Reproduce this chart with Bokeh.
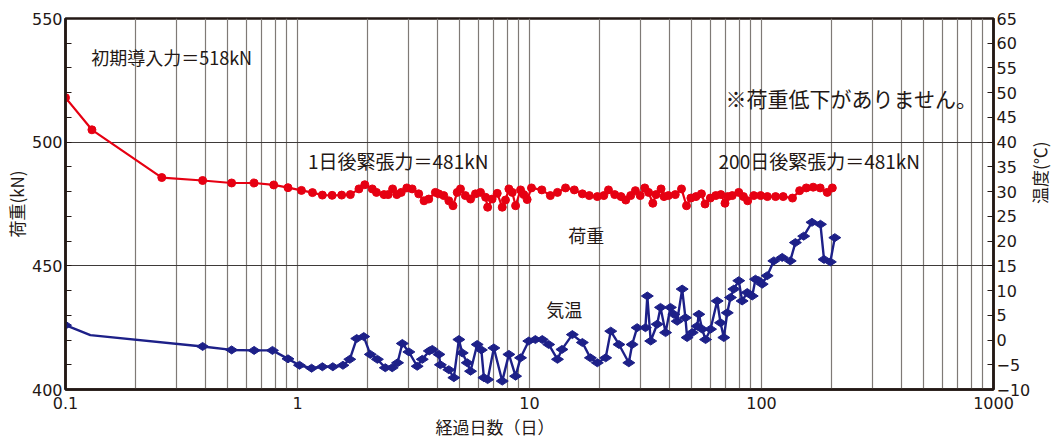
from math import pi
from bokeh.plotting import figure
from bokeh.models import Range1d, LinearAxis, FixedTicker, Label, CustomJSTickFormatter, Title
from bokeh.embed import file_html
from bokeh.resources import INLINE

# ---- data ----
load_days = [0.1, 0.13, 0.26, 0.39, 0.52, 0.65, 0.79, 0.91, 1.04, 1.16,
             1.28, 1.41, 1.55, 1.69, 1.84, 1.95, 2.1, 2.19, 2.36, 2.46,
             2.57, 2.68, 2.8, 2.96, 3.12, 3.33, 3.51, 3.68, 3.93, 4.06,
             4.27, 4.49, 4.68, 4.88, 5.04, 5.29, 5.57, 5.85, 6.15, 6.47,
             6.6, 6.9, 7.26, 7.63, 7.88, 8.15, 8.43, 8.71, 9.15, 9.45,
             9.77, 10.2, 11.3, 12.3, 13.2, 14.3, 15.6, 16.9, 18.1, 19.6,
             20.9, 21.9, 23.3, 24.8, 26.0, 27.3, 28.6, 30.0, 31.4, 32.6,
             34.0, 35.1, 36.9, 38.0, 39.7, 42.5, 45.2, 47.5, 49.6, 52.2,
             55.1, 57.1, 60.2, 63.5, 66.8, 69.6, 71.5, 74.8, 79.8, 83.6,
             87.2, 92.6, 99.2, 106, 115, 124, 136, 146, 156, 167,
             179, 192, 202]
load_kn = [518, 505, 485.7, 484.5, 483.5, 483.5, 482.7, 481.6, 480.5, 479.6,
           478.6, 478.5, 478.6, 478.8, 481.1, 482.8, 481.1, 479.7, 478.8, 478.8,
           481.1, 478.8, 479.7, 481.5, 481.1, 479.1, 476.3, 477.0, 479.7, 479.1,
           478.4, 476.3, 474.3, 479.7, 481.1, 478.4, 477.0, 479.1, 479.7, 477.7,
           473.7, 477.0, 479.3, 473.7, 476.6, 481.1, 479.7, 474.3, 480.7, 478.8,
           476.8, 481.5, 480.7, 478.4, 479.7, 481.5, 480.7, 479.1, 478.4, 478.0,
           478.4, 480.7, 478.8, 478.0, 476.6, 478.4, 480.4, 478.4, 481.5, 479.7,
           475.3, 478.8, 481.1, 478.0, 478.4, 478.8, 481.1, 474.3, 477.4, 478.0,
           479.1, 475.0, 477.4, 478.4, 478.8, 475.3, 478.0, 478.4, 479.7, 478.0,
           476.3, 478.4, 478.4, 478.0, 478.0, 478.0, 477.4, 480.4, 481.5, 481.8,
           481.5, 479.7, 481.5]

temp_days = [0.1, 0.128, 0.39, 0.52, 0.65, 0.78, 0.91, 1.02, 1.15, 1.28,
             1.42, 1.57, 1.68, 1.80, 1.93, 2.06, 2.21, 2.39, 2.56, 2.70,
             2.83, 3.02, 3.28, 3.45, 3.70, 3.81, 4.07, 4.13, 4.49, 4.72,
             4.96, 5.13, 5.39, 5.57, 5.95, 6.20, 6.36, 6.60, 7.02, 7.63,
             8.15, 8.71, 9.15, 9.93, 10.6, 11.35, 12.1, 13.2, 13.8, 15.3,
             16.9, 18.3, 19.6, 21.3, 22.4, 24.3, 26.8, 27.7, 29.1, 31.6,
             32.2, 33.3, 35.5, 36.7, 38.6, 40.5, 41.9, 43.3, 45.5, 47.0,
             47.8, 50.3, 52.8, 53.7, 55.5, 57.4, 60.3, 64.4, 66.6, 68.8,
             71.2, 73.5, 76.0, 79.8, 82.5, 86.8, 91.2, 94.2, 97.3, 100.7,
             105.8, 113, 122.8, 133, 140, 152, 165, 179.5, 186, 198,
             207]
temp_c = [3, 1, -1.3, -2.0, -2.1, -2.1, -3.8, -5.1, -5.7, -5.4,
          -5.4, -5.1, -3.9, 0.3, 0.7, -2.9, -3.9, -5.6, -5.6, -4.6,
          -0.7, -2.4, -5.3, -3.9, -2.2, -1.9, -2.9, -5.0, -6.0, -7.6,
          0.1, -2.6, -4.6, -6.3, -0.9, -2.0, -7.6, -8.0, -1.6, -8.3,
          -2.9, -7.3, -3.6, -0.2, 0.1, 0.1, -0.9, -3.9, -1.9, 1.1,
          -0.5, -3.6, -4.6, -3.6, 1.8, -0.9, -4.6, -0.9, 2.5, 2.5,
          8.9, -0.2, 3.2, 6.6, 1.5, 6.6, 5.2, 3.8, 10.3, 4.5,
          0.5, 1.5, 2.8, 5.2, 2.2, 0.1, 2.2, 7.9, 3.5, 0.5,
          5.5, 8.6, 10.3, 12.0, 7.9, 9.6, 8.9, 12.3, 12.0, 11.3,
          13.0, 16.0, 16.7, 16.0, 19.7, 21.0, 23.8, 23.4, 16.3, 15.8,
          20.7]

x_major = [0.1, 1, 10, 100, 1000]
x_minor = [m * 10.0 ** e for e in range(-1, 3) for m in range(2, 10)]
left_major = [400, 450, 500, 550]
left_minor = [410, 420, 430, 440, 460, 470, 480, 490, 510, 520, 530, 540]
left_grid = [450, 500]
right_ticks = [-10, -5, 0, 5, 10, 15, 20, 25, 30, 35, 40, 45, 50, 55, 60, 65]

RED = "#e60012"
NAVY = "#1d2088"
INK = "#231815"
JP = "Noto Sans CJK JP"

p = figure(frame_width=928, frame_height=371, x_axis_type="log",
           x_range=Range1d(0.1, 1000), y_range=Range1d(400, 550),
           output_backend="svg", toolbar_location=None,
           min_border_left=61, min_border_right=57,
           min_border_top=18, min_border_bottom=40)
p.extra_y_ranges = {"temp": Range1d(-10, 65)}
p.background_fill_color = "white"
p.outline_line_color = INK
p.outline_line_width = 2.5

# x axis
p.xaxis.ticker = FixedTicker(ticks=x_major, minor_ticks=x_minor)
p.xaxis.formatter = CustomJSTickFormatter(code="return String(tick);")
p.xaxis.major_tick_in = 0
p.xaxis.major_tick_out = 0
p.xaxis.minor_tick_in = 0
p.xaxis.minor_tick_out = 0

# left y axis
p.yaxis.ticker = FixedTicker(ticks=left_major, minor_ticks=left_minor)
p.yaxis.major_tick_in = 6
p.yaxis.major_tick_out = 0
p.yaxis.minor_tick_in = 6
p.yaxis.minor_tick_out = 0
p.yaxis.axis_label = "荷重(kN)"
p.yaxis.axis_label_standoff = 0

# right y axis
ra = LinearAxis(y_range_name="temp", ticker=FixedTicker(ticks=right_ticks))
ra.major_tick_in = 6
ra.major_tick_out = 0
ra.minor_tick_in = 0
ra.minor_tick_out = 0
ra.axis_label = "温度(℃)"
ra.axis_label_standoff = 6
ra.axis_label_orientation = pi / 2
p.add_layout(ra, "right")

for ax in [p.xaxis[0], p.yaxis[0], ra]:
    ax.axis_line_color = INK
    ax.axis_line_width = 2.5
    ax.major_tick_line_color = INK
    ax.minor_tick_line_color = INK
    ax.major_label_text_font = "DejaVu Sans"
    ax.major_label_text_font_size = "16px"
    ax.major_label_text_color = INK
    ax.major_label_standoff = 3
    ax.axis_label_text_font = JP
    ax.axis_label_text_font_style = "normal"
    ax.axis_label_text_color = INK
p.yaxis.axis_label_text_font_size = "17px"
ra.axis_label_text_font_size = "17px"
p.xaxis.major_label_standoff = 7

# x axis title (offset to the left like the reference)
p.add_layout(Title(text="経過日数（日）", align="left", offset=370, standoff=0,
                   text_font=JP, text_font_size="17px", text_font_style="normal",
                   text_color=INK), "below")

# grids
p.xgrid.grid_line_color = "#7f7a76"
p.xgrid.grid_line_width = 1.2
p.xgrid.minor_grid_line_color = "#7f7a76"
p.xgrid.minor_grid_line_width = 1.2
p.ygrid.ticker = FixedTicker(ticks=left_grid)
p.ygrid.grid_line_color = "#3e3a39"
p.ygrid.grid_line_width = 1.2

# series
p.line(load_days, load_kn, color=RED, line_width=2.2)
p.scatter(load_days, load_kn, marker="circle", size=8, color=RED)
p.line(temp_days, temp_c, y_range_name="temp", color=NAVY, line_width=2.4)
p.scatter(temp_days[:1] + temp_days[2:], temp_c[:1] + temp_c[2:],
          y_range_name="temp", marker="diamond", angle=pi / 2, size=12, color=NAVY)

def lab(x, y, text, size="19px"):
    p.add_layout(Label(x=x, y=y, text=text, text_font=JP, text_font_size=size,
                       text_color=INK, text_align="left", text_baseline="middle"))

lab(0.129, 534.6, "初期導入力＝518kN", size="18px")
lab(70, 517.7, "※荷重低下がありません。", size="21px")
lab(1.11, 492.6, "1日後緊張力＝481kN")
lab(65.3, 492.6, "200日後緊張力＝481kN")
lab(14.7, 462.3, "荷重", size="18px")
lab(11.8, 432.7, "気温", size="18px")

open("out.html", "w").write(file_html(p, INLINE))
